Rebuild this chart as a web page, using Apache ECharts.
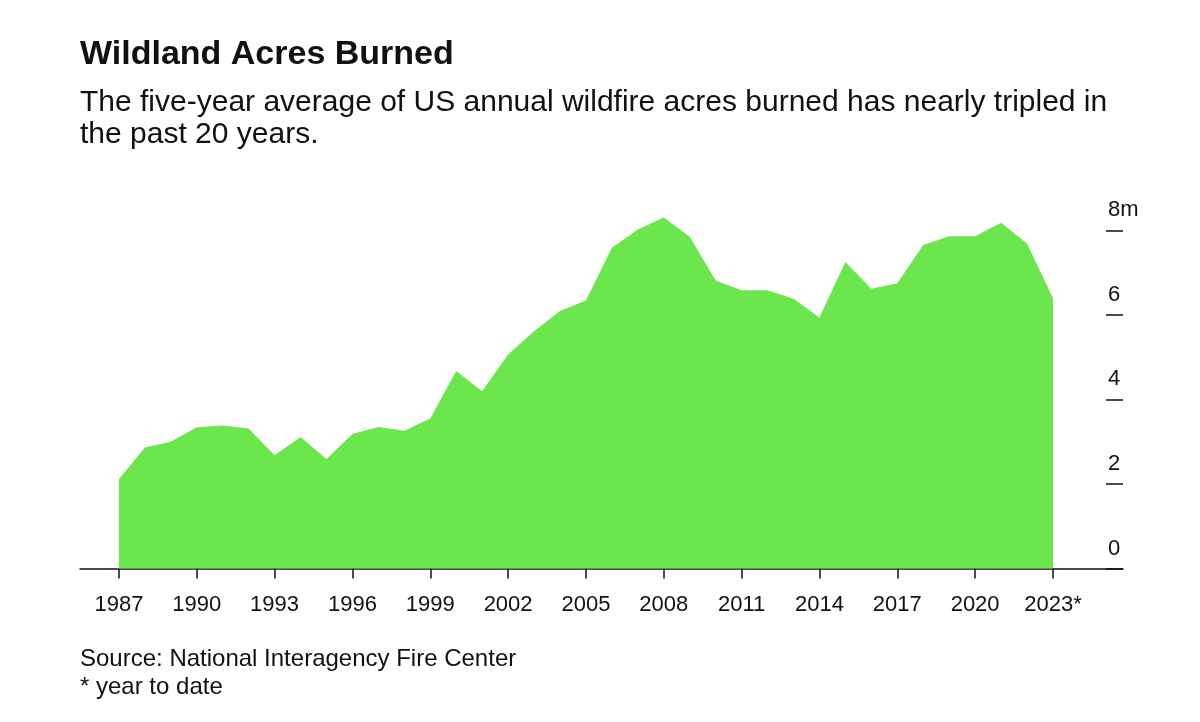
<!DOCTYPE html>
<html>
<head>
<meta charset="utf-8">
<script src="https://cdn.jsdelivr.net/npm/echarts@6/dist/echarts.min.js"></script>
<style>
  html, body { margin: 0; padding: 0; background: #fff; }
  #chart { width: 1200px; height: 722px; }
</style>
</head>
<body>
<div id="chart"></div>
<script>
  'use strict'

  var years = [1987, 1988, 1989, 1990, 1991, 1992, 1993, 1994, 1995, 1996,
    1997, 1998, 1999, 2000, 2001, 2002, 2003, 2004, 2005, 2006,
    2007, 2008, 2009, 2010, 2011, 2012, 2013, 2014, 2015, 2016,
    2017, 2018, 2019, 2020, 2021, 2022, 2023];
  // five-year average, million acres
  var acres = [2.11, 2.86, 3.0, 3.34, 3.38, 3.31, 2.68, 3.11, 2.59, 3.18,
    3.35, 3.26, 3.55, 4.67, 4.19, 5.06, 5.61, 6.09, 6.34, 7.59,
    8.02, 8.30, 7.85, 6.81, 6.58, 6.58, 6.38, 5.94, 7.25, 6.62,
    6.75, 7.65, 7.86, 7.86, 8.18, 7.69, 6.40];
  var yearTicks = [1987, 1990, 1993, 1996, 1999, 2002, 2005, 2008, 2011, 2014, 2017, 2020, 2023];

  var font = 'Liberation Sans, Arial, Helvetica, sans-serif';
  var ink = '#111';

  var chart = echarts.init(document.getElementById('chart'), null, { renderer: 'canvas' });

  chart.setOption({
    backgroundColor: '#fff',
    animation: false,
    title: [
      {
        text: 'Wildland Acres Burned',
        left: 80, top: 38, padding: 0,
        textStyle: { fontFamily: font, fontSize: 34, fontWeight: 'bold', color: ink }
      },
      {
        text: 'The five-year average of US annual wildfire acres burned has nearly tripled in\nthe past 20 years.',
        left: 80, top: 87, padding: 0,
        textStyle: { fontFamily: font, fontSize: 30, fontWeight: 'normal', color: ink, lineHeight: 32 }
      },
      {
        text: 'Source: National Interagency Fire Center\n* year to date',
        left: 80, top: 646, padding: 0,
        textStyle: { fontFamily: font, fontSize: 24, fontWeight: 'normal', color: ink, lineHeight: 27.5 }
      }
    ],
    grid: { left: 80, right: 77, top: 230.3, bottom: 153.5 },
    xAxis: {
      type: 'value',
      min: 1985.5,
      max: 2025.7,
      axisLine: { show: true, lineStyle: { color: ink, width: 1.5 } },
      axisTick: { show: true, customValues: yearTicks, length: 10, lineStyle: { color: ink, width: 1.5 } },
      axisLabel: {
        customValues: yearTicks,
        margin: 25,
        fontFamily: font, fontSize: 22, color: ink,
        formatter: function (v) { return v === 2023 ? '2023*' : String(v); }
      },
      splitLine: { show: false }
    },
    yAxis: {
      type: 'value',
      position: 'right',
      min: 0, max: 8, interval: 2,
      axisLine: { show: false },
      axisTick: { show: true, inside: true, length: 17, lineStyle: { color: ink, width: 1.5 } },
      axisLabel: {
        margin: -15,
        align: 'left',
        verticalAlign: 'bottom',
        padding: [0, 0, 9, 0],
        fontFamily: font, fontSize: 22, color: ink,
        formatter: function (v) { return v === 8 ? '8m' : String(v); }
      },
      splitLine: { show: false }
    },
    series: [{
      type: 'line',
      data: years.map(function (y, i) { return [y, acres[i]]; }),
      symbol: 'none',
      clip: false,
      lineStyle: { width: 0 },
      areaStyle: { color: '#6be64c', opacity: 1 },
      z: 1
    }]
  });
</script>
</body>
</html>
